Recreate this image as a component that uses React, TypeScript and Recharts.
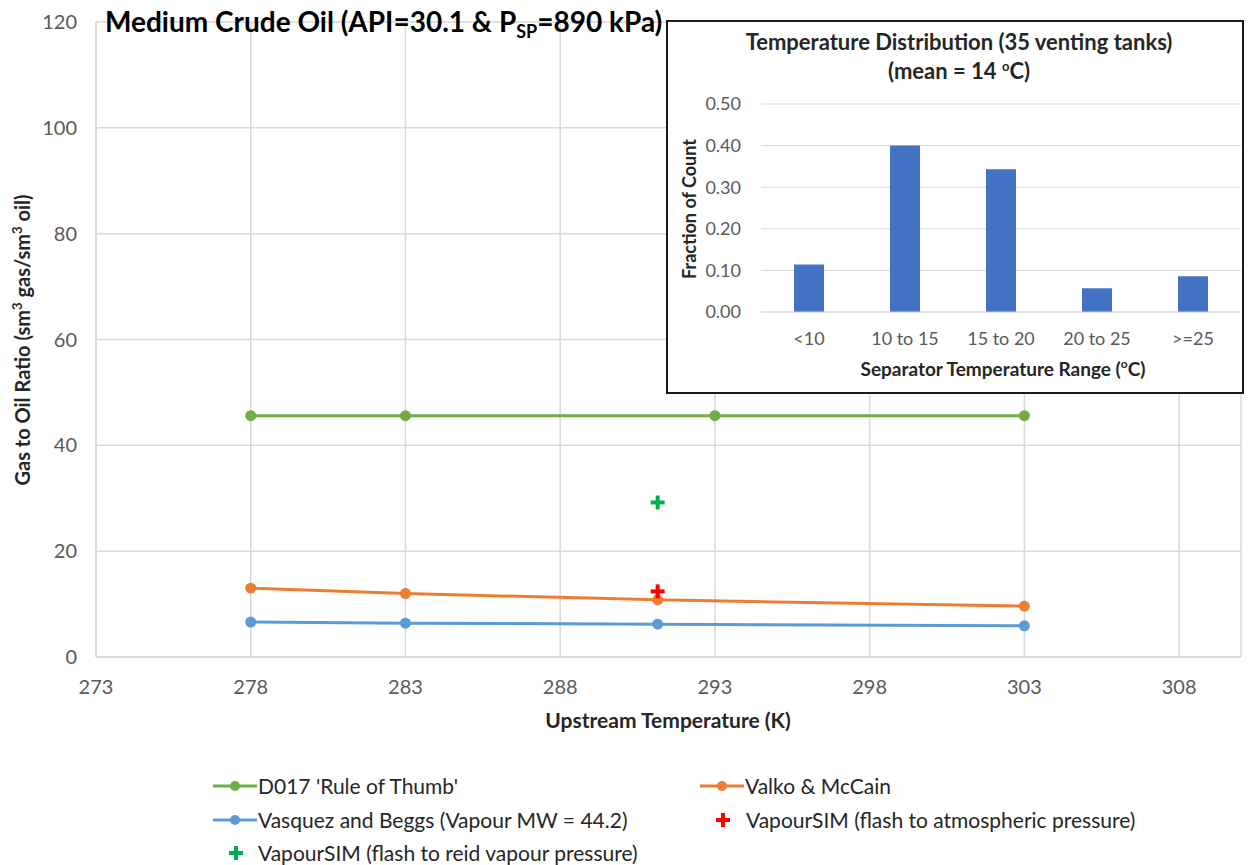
import React from "react";
import {
  ComposedChart,
  Line,
  Scatter,
  XAxis,
  YAxis,
  CartesianGrid,
  BarChart,
  Bar,
} from "recharts";

// Main chart data (GOR in sm3 gas / sm3 oil vs upstream temperature in K)
const d017Temps = [278, 283, 293, 303];
const d017Gor = [45.6, 45.6, 45.6, 45.6];
const corrTemps = [278, 283, 291.15, 303];
const valkoGor = [13.0, 12.0, 10.8, 9.6];
const vasquezGor = [6.6, 6.4, 6.2, 5.9];
const flashTemp = [291.15];
const atmFlashGor = [12.4];
const reidFlashGor = [29.2];

const xTicks = [273, 278, 283, 288, 293, 298, 303, 308];
const yTicks = [0, 20, 40, 60, 80, 100, 120];

// Inset histogram
const tempRanges = ["<10", "10 to 15", "15 to 20", "20 to 25", ">=25"];
const fractions = [0.114, 0.4, 0.343, 0.057, 0.086];
const fracTicks = [0, 0.1, 0.2, 0.3, 0.4, 0.5];

const FONT = "Lato, 'Open Sans', sans-serif";
const GRID = "#d9d9d9";
const TICK = "#595959";

const zip = (xs: number[], ys: number[]) => xs.map((x, i) => ({ x, y: ys[i] }));

const d017Data = zip(d017Temps, d017Gor);
const valkoData = zip(corrTemps, valkoGor);
const vasquezData = zip(corrTemps, vasquezGor);
const atmData = zip(flashTemp, atmFlashGor);
const reidData = zip(flashTemp, reidFlashGor);
const histData = tempRanges.map((name, i) => ({ name, value: fractions[i] }));

const plusShape = (color: string) => (props: any) => {
  const { cx, cy } = props;
  if (cx == null || cy == null) return <g />;
  return (
    <g>
      <line x1={cx - 7} x2={cx + 7} y1={cy} y2={cy} stroke={color} strokeWidth={4} />
      <line x1={cx} x2={cx} y1={cy - 7} y2={cy + 7} stroke={color} strokeWidth={4} />
    </g>
  );
};

function LineIcon({ color }: { color: string }) {
  return (
    <svg width={44} height={14} style={{ display: "block" }}>
      <line x1={0} x2={44} y1={7} y2={7} stroke={color} strokeWidth={3} />
      <circle cx={22} cy={7} r={5} fill={color} />
    </svg>
  );
}

function PlusIcon({ color }: { color: string }) {
  return (
    <svg width={14} height={14} style={{ display: "block" }}>
      <line x1={0} x2={14} y1={7} y2={7} stroke={color} strokeWidth={4} />
      <line x1={7} x2={7} y1={0} y2={14} stroke={color} strokeWidth={4} />
    </svg>
  );
}

const legendText: React.CSSProperties = {
  position: "absolute",
  fontFamily: FONT,
  fontSize: 21,
  color: "#262626",
  whiteSpace: "nowrap",
  lineHeight: "24px",
};

export default function App() {
  return (
    <div
      style={{
        position: "absolute",
        left: 0,
        top: 0,
        width: 1248,
        height: 865,
        background: "#fff",
        fontFamily: FONT,
        overflow: "hidden",
      }}
    >
      <ComposedChart
        width={1248}
        height={865}
        margin={{ top: 22, right: 7, left: 0, bottom: 178 }}
      >
        <CartesianGrid stroke={GRID} strokeWidth={1.5} />
        <XAxis
          type="number"
          dataKey="x"
          domain={[273, 310]}
          ticks={xTicks}
          allowDataOverflow
          height={30}
          stroke={GRID}
          strokeWidth={1.5}
          tickLine={false}
          tickSize={0}
          tickMargin={23}
          tick={{ fill: TICK, fontSize: 20, fontFamily: FONT }}
        />
        <YAxis
          type="number"
          domain={[0, 120]}
          ticks={yTicks}
          width={96}
          stroke={GRID}
          strokeWidth={1.5}
          tickLine={false}
          tickSize={0}
          tickMargin={19}
          tick={{ fill: TICK, fontSize: 20, fontFamily: FONT }}
        />
        <Line
          data={d017Data}
          dataKey="y"
          stroke="#70ad47"
          strokeWidth={3}
          dot={{ r: 5.5, fill: "#70ad47", stroke: "#70ad47", strokeWidth: 0 }}
          isAnimationActive={false}
        />
        <Line
          data={valkoData}
          dataKey="y"
          stroke="#ed7d31"
          strokeWidth={3}
          dot={{ r: 5.5, fill: "#ed7d31", stroke: "#ed7d31", strokeWidth: 0 }}
          isAnimationActive={false}
        />
        <Line
          data={vasquezData}
          dataKey="y"
          stroke="#5b9bd5"
          strokeWidth={3}
          dot={{ r: 5.5, fill: "#5b9bd5", stroke: "#5b9bd5", strokeWidth: 0 }}
          isAnimationActive={false}
        />
        <Scatter data={atmData} dataKey="y" shape={plusShape("#ff0000")} isAnimationActive={false} />
        <Scatter data={reidData} dataKey="y" shape={plusShape("#00b050")} isAnimationActive={false} />
      </ComposedChart>

      {/* Title */}
      <div
        style={{
          position: "absolute",
          left: 105,
          top: 4,
          fontSize: 28,
          fontWeight: 700,
          color: "#000",
          whiteSpace: "nowrap",
          lineHeight: "34px",
        }}
      >
        Medium Crude Oil (API=30.1 &amp; P
        <sub style={{ fontSize: 18, verticalAlign: "-6px", lineHeight: 0 }}>SP</sub>
        =890 kPa)
      </div>

      {/* Axis titles */}
      <div
        style={{
          position: "absolute",
          left: 22,
          top: 340,
          transform: "translate(-50%, -50%) rotate(-90deg)",
          fontSize: 20,
          fontWeight: 700,
          color: "#262626",
          whiteSpace: "nowrap",
        }}
      >
        Gas to Oil Ratio (sm<sup style={{ fontSize: 13, lineHeight: 0 }}>3</sup> gas/sm
        <sup style={{ fontSize: 13, lineHeight: 0 }}>3</sup> oil)
      </div>
      <div
        style={{
          position: "absolute",
          left: 668,
          top: 719,
          transform: "translate(-50%, -50%)",
          fontSize: 21,
          fontWeight: 700,
          color: "#262626",
          whiteSpace: "nowrap",
        }}
      >
        Upstream Temperature (K)
      </div>

      {/* Legend */}
      <div style={{ position: "absolute", left: 213, top: 779 }}>
        <LineIcon color="#70ad47" />
      </div>
      <div style={{ ...legendText, left: 258, top: 774 }}>D017 'Rule of Thumb'</div>
      <div style={{ position: "absolute", left: 700, top: 779 }}>
        <LineIcon color="#ed7d31" />
      </div>
      <div style={{ ...legendText, left: 745, top: 774 }}>Valko &amp; McCain</div>
      <div style={{ position: "absolute", left: 213, top: 813 }}>
        <LineIcon color="#5b9bd5" />
      </div>
      <div style={{ ...legendText, left: 258, top: 808 }}>Vasquez and Beggs (Vapour MW = 44.2)</div>
      <div style={{ position: "absolute", left: 716, top: 813 }}>
        <PlusIcon color="#ff0000" />
      </div>
      <div style={{ ...legendText, left: 746, top: 808 }}>VapourSIM (flash to atmospheric pressure)</div>
      <div style={{ position: "absolute", left: 229, top: 846 }}>
        <PlusIcon color="#00b050" />
      </div>
      <div style={{ ...legendText, left: 258, top: 841 }}>VapourSIM (flash to reid vapour pressure)</div>

      {/* Inset */}
      <div
        style={{
          position: "absolute",
          left: 666,
          top: 20,
          width: 578,
          height: 374,
          boxSizing: "border-box",
          border: "2px solid #1a1a1a",
          background: "#fff",
        }}
      >
        <BarChart
          width={574}
          height={370}
          data={histData}
          margin={{ top: 82, right: 1, left: 0, bottom: 50 }}
          barSize={30}
        >
          <CartesianGrid stroke={GRID} strokeWidth={1} vertical={false} />
          <XAxis
            dataKey="name"
            height={30}
            stroke={GRID}
            tickLine={false}
            tickSize={0}
            tickMargin={20}
            tick={{ fill: TICK, fontSize: 18, fontFamily: FONT }}
          />
          <YAxis
            type="number"
            domain={[0, 0.5]}
            ticks={fracTicks}
            width={93}
            axisLine={false}
            tickLine={false}
            tickSize={0}
            tickMargin={20}
            tickFormatter={(v: number) => v.toFixed(2)}
            tick={{ fill: TICK, fontSize: 18, fontFamily: FONT }}
          />
          <Bar dataKey="value" fill="#4472c4" isAnimationActive={false} />
        </BarChart>
        <div
          style={{
            position: "absolute",
            left: 0,
            width: 574,
            top: 5,
            textAlign: "center",
            fontSize: 22,
            fontWeight: 700,
            color: "#262626",
            lineHeight: "29px",
            paddingLeft: 8,
            boxSizing: "border-box",
          }}
        >
          Temperature Distribution (35 venting tanks)
          <br />
          (mean = 14 <sup style={{ fontSize: 13, lineHeight: 0 }}>o</sup>C)
        </div>
        <div
          style={{
            position: "absolute",
            left: 21,
            top: 187,
            transform: "translate(-50%, -50%) rotate(-90deg)",
            fontSize: 18,
            fontWeight: 700,
            color: "#262626",
            whiteSpace: "nowrap",
          }}
        >
          Fraction of Count
        </div>
        <div
          style={{
            position: "absolute",
            left: 335,
            top: 346,
            transform: "translate(-50%, -50%)",
            fontSize: 19,
            fontWeight: 700,
            color: "#262626",
            whiteSpace: "nowrap",
          }}
        >
          Separator Temperature Range (<sup style={{ fontSize: 12, lineHeight: 0 }}>o</sup>C)
        </div>
      </div>
    </div>
  );
}
